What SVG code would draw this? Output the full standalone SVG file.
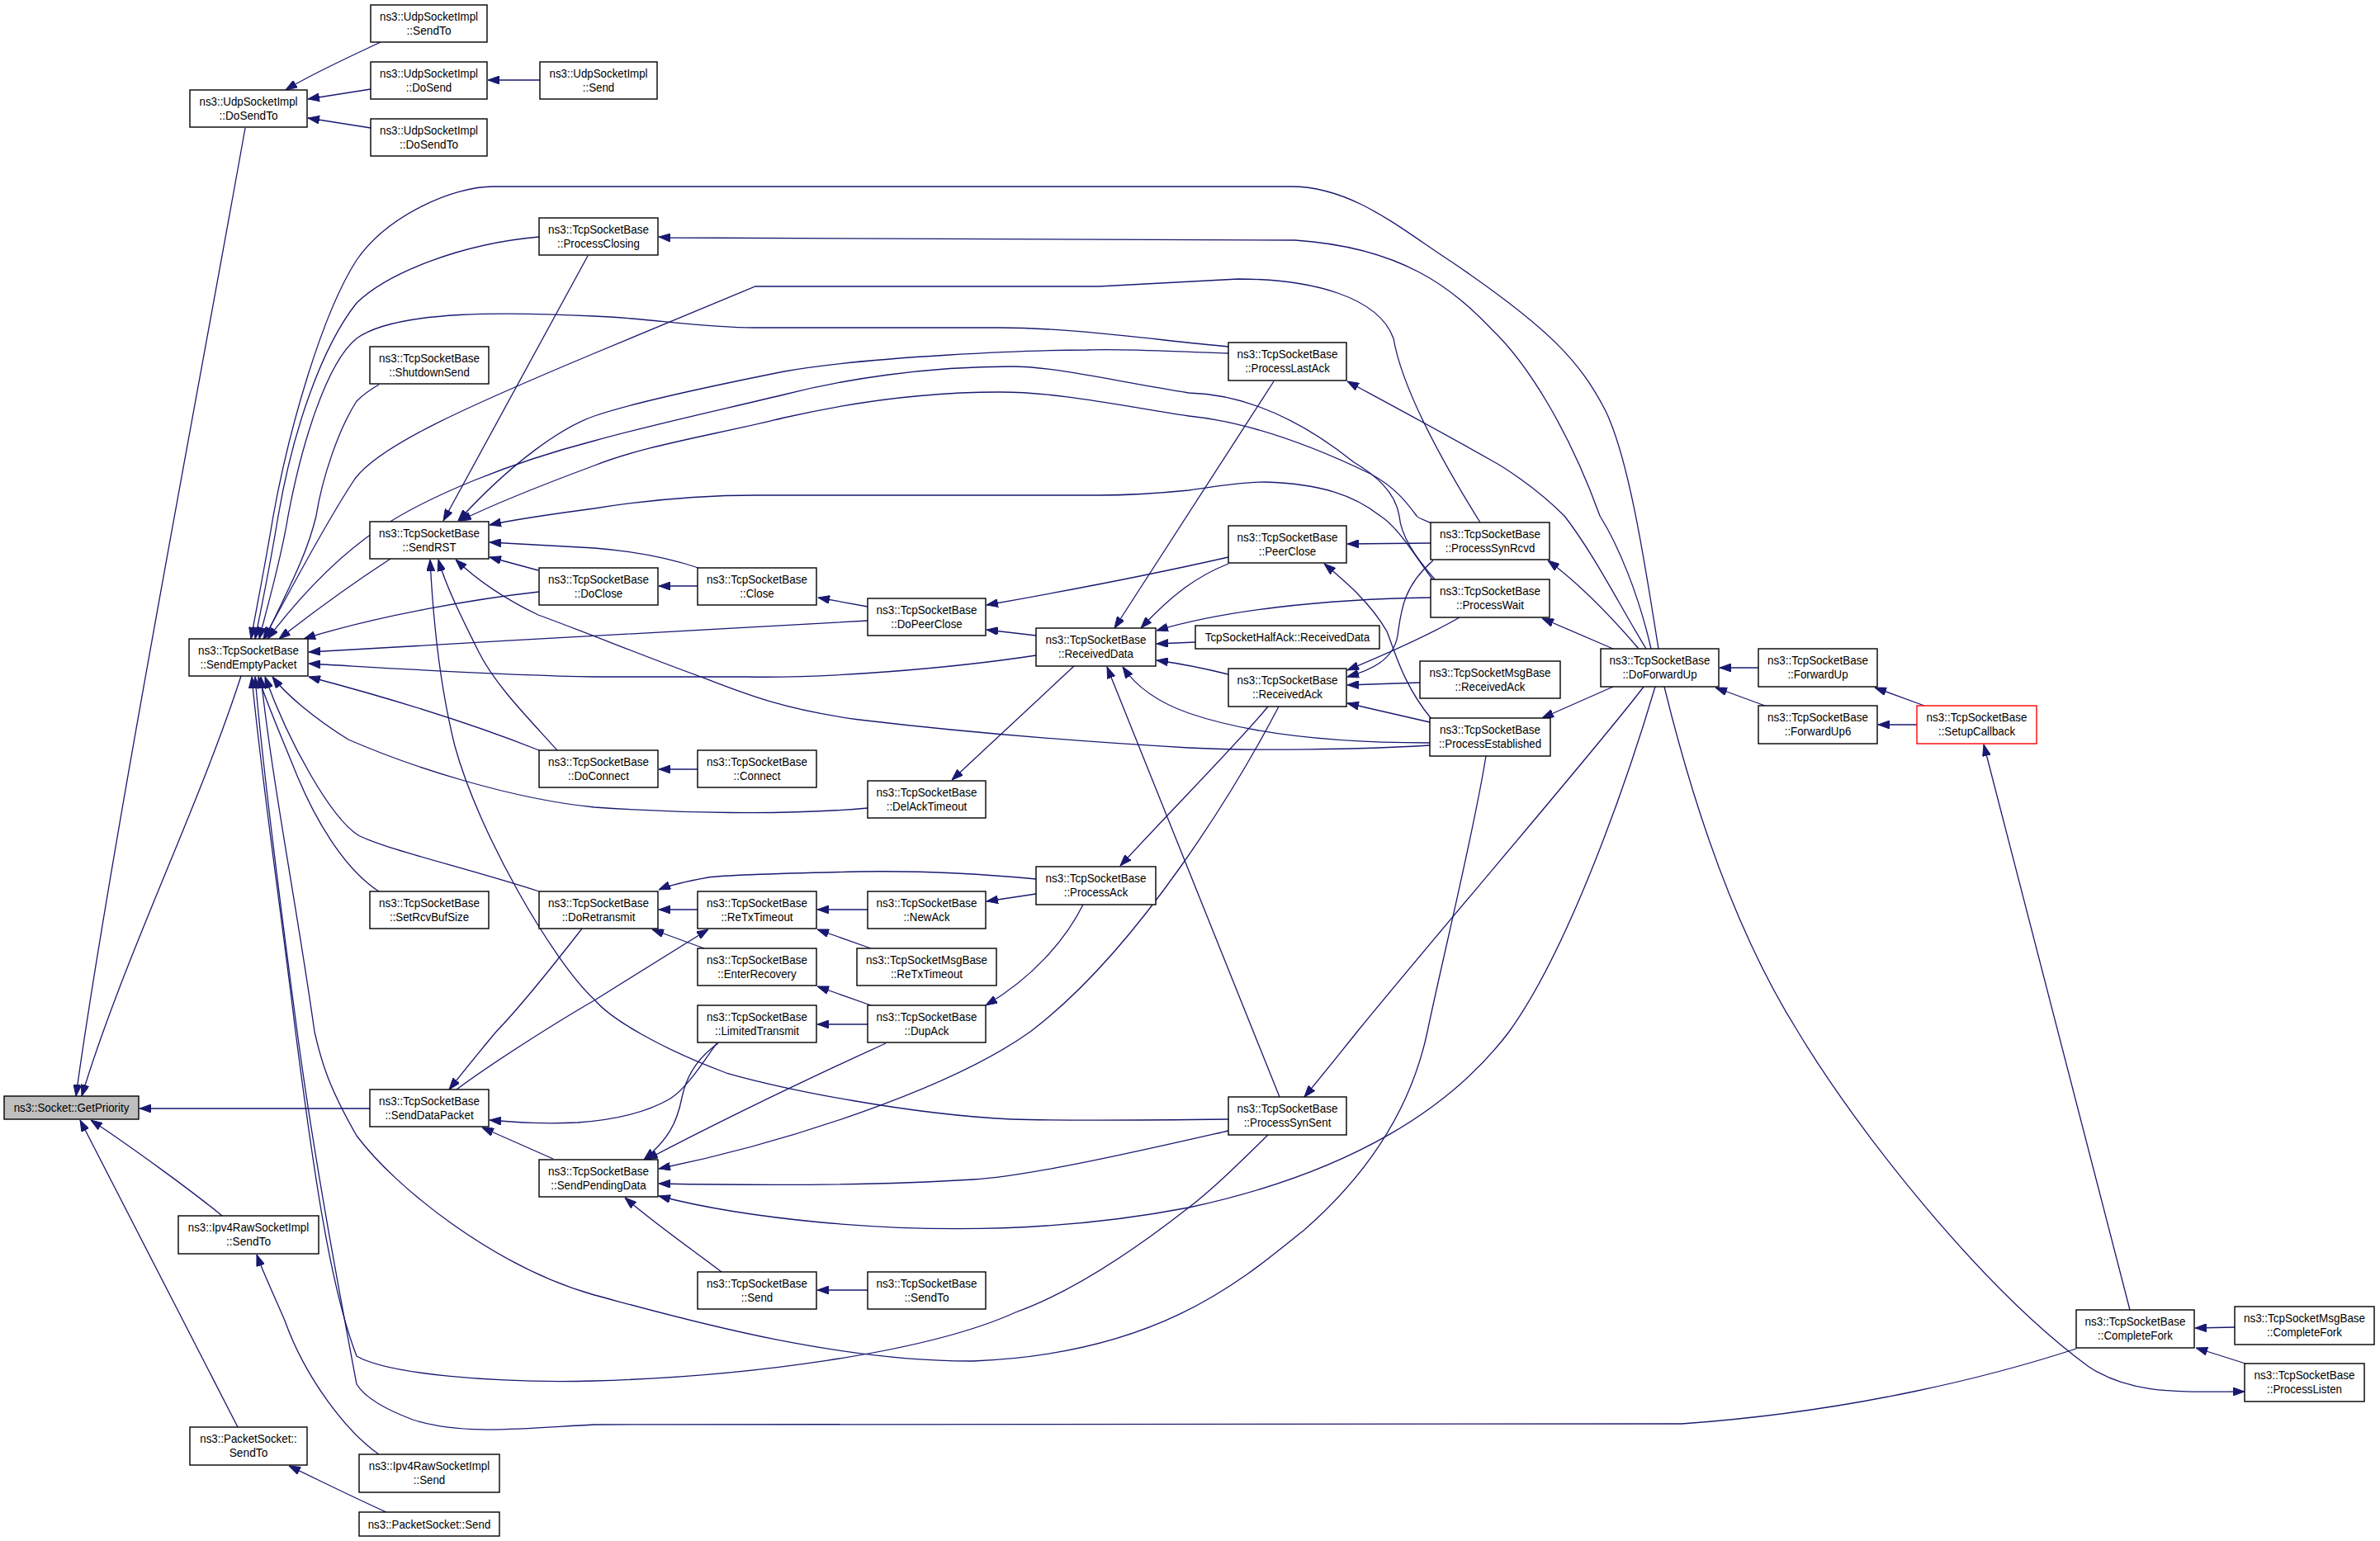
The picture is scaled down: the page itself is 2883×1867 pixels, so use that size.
<svg xmlns="http://www.w3.org/2000/svg" width="2883" height="1867" viewBox="0 0 2883 1867">
<style>
.n rect{fill:#fff;stroke:#000;stroke-width:1.4}
.n text{font-family:"Liberation Sans",Arial,sans-serif;font-size:15px;fill:#000;text-anchor:middle}
#edges path{fill:none;stroke:#191970;stroke-width:1.3;marker-end:url(#arr)}
</style>
<defs>
<marker id="arr" viewBox="0 0 14 10" refX="14" refY="5" markerWidth="14" markerHeight="10" markerUnits="userSpaceOnUse" orient="auto">
<path d="M0,0 L14,5 L0,10 z" fill="#191970" stroke="#191970" stroke-width="1"/>
</marker>
</defs>
<rect width="2883" height="1867" fill="#fff"/>
<g id="edges">
<path d="M297,155 C250,420 130,1050 92,1328"/>
<path d="M292,819 C240,980 150,1160 99,1328"/>
<path d="M448,1343 L169,1343"/>
<path d="M269,1473 C235,1445 160,1390 110,1357"/>
<path d="M288,1729 L97,1357"/>
<path d="M461,51 C430,66 380,88 346,109"/>
<path d="M449,108 L373,120"/>
<path d="M449,155 L373,143"/>
<path d="M654,97 L591,97"/>
<path d="M2009,786 C1995,700 1975,560 1945,498 C1915,440 1880,400 1761,319 C1700,280 1640,226 1564,226 L597,226 C550,226 470,260 432,315 C390,380 350,520 331,625 C322,680 312,730 304,774"/>
<path d="M2000,786 C1985,720 1960,660 1938,625 C1900,520 1850,440 1807,399 C1760,350 1700,300 1569,291 L812,288 L798,287"/>
<path d="M653,287 C560,295 470,330 432,367 C390,420 355,520 337,625 C328,680 318,730 309,774"/>
<path d="M712,310 L537,631"/>
<path d="M1488,420 C1400,412 1300,397 1211,397 L913,397 C850,397 780,385 720,383 C620,378 480,375 432,410 C395,440 365,540 349,625 C340,680 325,730 314,774"/>
<path d="M1488,428 C1420,426 1360,422 1317,424 C1250,424 1050,432 950,450 C850,470 760,490 720,504 C680,518 620,560 555,631"/>
<path d="M1793,633 C1760,580 1700,480 1688,410 C1670,360 1590,338 1500,338 L1331,347 L915,347 L720,428 C560,495 460,540 430,580 C390,640 350,720 319,774"/>
<path d="M1738,702 C1715,675 1697,650 1695,625 C1690,595 1665,575 1640,560 C1590,520 1520,478 1440,476 C1350,462 1280,444 1225,444 C1120,444 1020,460 950,478 C880,495 800,512 720,534 C620,560 520,600 460,640 C400,680 350,740 324,774"/>
<path d="M1735,634 C1725,630 1718,628 1716,625 C1705,610 1690,590 1660,574 C1600,545 1520,512 1440,504 C1350,490 1280,475 1211,475 C1110,475 1020,490 950,506 C860,528 780,540 720,564 C650,590 600,610 557,631"/>
<path d="M1736,703 C1715,675 1695,640 1672,625 C1640,600 1600,586 1532,584 C1500,584 1470,590 1440,594 C1400,598 1360,600 1331,600 L917,600 C840,600 770,608 720,616 C660,624 620,630 593,636"/>
<path d="M459,466 C445,474 438,480 432,486 C410,520 390,580 383,625 C370,680 340,730 321,774"/>
<path d="M473,677 C430,705 375,745 338,774"/>
<path d="M653,717 C580,725 460,745 368,774"/>
<path d="M1051,752 C900,762 600,776 374,790"/>
<path d="M1255,794 C1150,810 1000,822 904,820 L720,820 C600,818 480,810 374,804"/>
<path d="M653,909 C560,872 450,840 374,820"/>
<path d="M1051,979 C950,988 820,985 720,978 C620,968 500,930 422,896 C380,870 345,840 330,820"/>
<path d="M459,1080 C420,1055 385,1000 360,940 C340,890 322,850 313,820"/>
<path d="M653,1080 C560,1050 470,1030 434,1012 C400,990 350,900 321,820"/>
<path d="M1536,1375 C1500,1410 1470,1440 1440,1463 C1380,1510 1300,1565 1230,1590 C1120,1640 900,1668 720,1673 C600,1676 470,1665 432,1643 C400,1560 380,1420 358,1250 C340,1100 315,930 305,820"/>
<path d="M1800,916 C1785,1010 1750,1150 1729,1250 C1710,1340 1660,1420 1580,1490 C1500,1555 1400,1640 1179,1649 C1000,1650 800,1590 720,1569 C600,1535 480,1440 432,1376 C400,1320 390,1290 381,1250 C360,1100 330,950 316,820"/>
<path d="M2515,1634 C2420,1665 2250,1710 2037,1725 L720,1726 C640,1730 560,1740 500,1720 C460,1705 440,1690 432,1677 C410,1560 380,1400 360,1250 C340,1100 318,930 309,820"/>
<path d="M459,1762 C420,1735 370,1670 345,1600 C330,1565 318,1540 311,1520"/>
<path d="M468,1832 C430,1815 390,1795 350,1776"/>
<path d="M705,1125 C670,1170 630,1220 601,1250 C580,1275 560,1300 544,1320"/>
<path d="M553,1320 C600,1285 680,1235 720,1212 C780,1175 830,1143 858,1126"/>
<path d="M868,1264 C850,1290 830,1320 812,1331 C780,1350 740,1357 700,1360 C660,1362 630,1360 593,1357"/>
<path d="M670,1404 L584,1366"/>
<path d="M870,1264 C840,1285 830,1310 826,1330 C820,1360 810,1380 780,1405"/>
<path d="M1073,1264 C950,1320 850,1370 783,1405"/>
<path d="M1549,856 C1500,950 1380,1150 1248,1250 C1150,1320 950,1385 798,1416"/>
<path d="M1488,1370 C1400,1390 1250,1425 1179,1429 C1050,1437 900,1436 798,1434"/>
<path d="M2005,832 C1970,950 1900,1150 1828,1250 C1760,1340 1640,1420 1440,1463 C1300,1490 1150,1495 995,1481 C900,1472 840,1460 798,1449"/>
<path d="M874,1541 C840,1515 790,1480 757,1451"/>
<path d="M1051,1563 L990,1563"/>
<path d="M1488,1356 C1400,1357 1300,1358 1225,1356 C1100,1350 950,1320 880,1300 C800,1270 740,1235 720,1211 C670,1165 580,1010 551,904 C535,840 525,760 521,678"/>
<path d="M1732,903 C1650,908 1520,910 1440,906 C1300,898 1150,885 1041,872 C950,860 900,840 849,820 C780,795 720,770 652,745 C610,725 575,700 552,678"/>
<path d="M675,909 C640,870 600,830 580,790 C560,750 540,710 531,678"/>
<path d="M652,691 L593,675"/>
<path d="M846,688 C810,676 770,668 720,664 C670,661 630,659 593,657"/>
<path d="M845,710 L798,710"/>
<path d="M845,932 L798,932"/>
<path d="M1051,735 L991,724"/>
<path d="M1255,770 L1195,763"/>
<path d="M1488,675 C1400,695 1280,718 1195,733"/>
<path d="M1488,683 C1450,698 1420,720 1382,761"/>
<path d="M1543,462 L1350,761"/>
<path d="M1733,724 C1600,726 1480,740 1401,764"/>
<path d="M1448,778 L1401,780"/>
<path d="M1488,817 C1460,810 1430,804 1401,800"/>
<path d="M1732,900 C1650,900 1530,895 1440,864 C1400,850 1375,830 1360,808"/>
<path d="M1550,1329 L1341,808"/>
<path d="M1301,807 L1153,945"/>
<path d="M1536,856 C1500,900 1420,980 1357,1049"/>
<path d="M1255,1065 C1180,1058 1100,1055 1041,1056 C950,1058 880,1060 858,1063 C830,1068 810,1073 798,1078"/>
<path d="M1255,1083 L1195,1092"/>
<path d="M1312,1096 C1290,1140 1250,1185 1194,1218"/>
<path d="M845,1102 L798,1102"/>
<path d="M853,1149 L790,1126"/>
<path d="M1051,1102 L990,1102"/>
<path d="M1055,1149 L990,1126"/>
<path d="M1055,1218 L990,1195"/>
<path d="M1051,1241 L990,1241"/>
<path d="M1991,832 C1940,900 1750,1120 1644,1250 C1620,1280 1600,1305 1580,1329"/>
<path d="M2016,832 C2040,930 2090,1110 2178,1250 C2250,1370 2400,1560 2529,1655 C2580,1690 2640,1686 2719,1686"/>
<path d="M1985,786 C1950,745 1910,705 1875,679"/>
<path d="M1954,786 L1868,749"/>
<path d="M1954,832 L1868,870"/>
<path d="M1994,786 C1960,730 1930,670 1895,625 C1860,590 1820,565 1807,558 C1740,520 1680,488 1632,462"/>
<path d="M2130,809 L2083,809"/>
<path d="M2138,855 L2078,833"/>
<path d="M2331,855 L2271,833"/>
<path d="M2322,878 L2275,878"/>
<path d="M2580,1587 L2403,902"/>
<path d="M2707,1608 L2659,1609"/>
<path d="M2720,1652 L2660,1633"/>
<path d="M1733,658 L1632,659"/>
<path d="M1734,871 C1700,830 1690,790 1680,765 C1660,730 1630,705 1604,683"/>
<path d="M1768,748 C1730,770 1680,792 1632,812"/>
<path d="M1736,679 C1700,710 1697,740 1693,770 C1688,800 1660,812 1632,820"/>
<path d="M1720,827 L1632,830"/>
<path d="M1732,875 L1632,852"/>
</g>
<g id="n_getpriority" class="n"><rect x="5" y="1328" width="163" height="28" style="fill:#bfbfbf"/><text x="86.5" y="1347" textLength="139.7" lengthAdjust="spacingAndGlyphs">ns3::Socket::GetPriority</text></g>
<g id="n_udp_dosendto" class="n"><rect x="230" y="109" width="142" height="45"/><text x="301" y="127.5" textLength="119" lengthAdjust="spacingAndGlyphs">ns3::UdpSocketImpl</text><text x="301" y="144.5" textLength="71" lengthAdjust="spacingAndGlyphs">::DoSendTo</text></g>
<g id="n_udp_sendto" class="n"><rect x="449" y="6" width="141" height="45"/><text x="519.5" y="24.5" textLength="119" lengthAdjust="spacingAndGlyphs">ns3::UdpSocketImpl</text><text x="519.5" y="41.5" textLength="54" lengthAdjust="spacingAndGlyphs">::SendTo</text></g>
<g id="n_udp_dosend" class="n"><rect x="449" y="75" width="141" height="45"/><text x="519.5" y="93.5" textLength="119" lengthAdjust="spacingAndGlyphs">ns3::UdpSocketImpl</text><text x="519.5" y="110.5" textLength="55.4" lengthAdjust="spacingAndGlyphs">::DoSend</text></g>
<g id="n_udp_dosendto2" class="n"><rect x="449" y="144" width="141" height="45"/><text x="519.5" y="162.5" textLength="119" lengthAdjust="spacingAndGlyphs">ns3::UdpSocketImpl</text><text x="519.5" y="179.5" textLength="71" lengthAdjust="spacingAndGlyphs">::DoSendTo</text></g>
<g id="n_udp_send" class="n"><rect x="654" y="75" width="142" height="45"/><text x="725" y="93.5" textLength="119" lengthAdjust="spacingAndGlyphs">ns3::UdpSocketImpl</text><text x="725" y="110.5" textLength="38.5" lengthAdjust="spacingAndGlyphs">::Send</text></g>
<g id="n_sendemptypacket" class="n"><rect x="229" y="774" width="144" height="45"/><text x="301" y="792.5" textLength="122" lengthAdjust="spacingAndGlyphs">ns3::TcpSocketBase</text><text x="301" y="809.5" textLength="116.8" lengthAdjust="spacingAndGlyphs">::SendEmptyPacket</text></g>
<g id="n_processclosing" class="n"><rect x="653" y="264" width="144" height="45"/><text x="725" y="282.5" textLength="122" lengthAdjust="spacingAndGlyphs">ns3::TcpSocketBase</text><text x="725" y="299.5" textLength="99.8" lengthAdjust="spacingAndGlyphs">::ProcessClosing</text></g>
<g id="n_shutdownsend" class="n"><rect x="448" y="420" width="144" height="45"/><text x="520" y="438.5" textLength="122" lengthAdjust="spacingAndGlyphs">ns3::TcpSocketBase</text><text x="520" y="455.5" textLength="97.6" lengthAdjust="spacingAndGlyphs">::ShutdownSend</text></g>
<g id="n_sendrst" class="n"><rect x="448" y="632" width="144" height="45"/><text x="520" y="650.5" textLength="122" lengthAdjust="spacingAndGlyphs">ns3::TcpSocketBase</text><text x="520" y="667.5" textLength="65" lengthAdjust="spacingAndGlyphs">::SendRST</text></g>
<g id="n_doclose" class="n"><rect x="653" y="688" width="144" height="45"/><text x="725" y="706.5" textLength="122" lengthAdjust="spacingAndGlyphs">ns3::TcpSocketBase</text><text x="725" y="723.5" textLength="58.4" lengthAdjust="spacingAndGlyphs">::DoClose</text></g>
<g id="n_close" class="n"><rect x="845" y="688" width="144" height="45"/><text x="917" y="706.5" textLength="122" lengthAdjust="spacingAndGlyphs">ns3::TcpSocketBase</text><text x="917" y="723.5" textLength="41.4" lengthAdjust="spacingAndGlyphs">::Close</text></g>
<g id="n_dopeerclose" class="n"><rect x="1051" y="725" width="143" height="45"/><text x="1122.5" y="743.5" textLength="122" lengthAdjust="spacingAndGlyphs">ns3::TcpSocketBase</text><text x="1122.5" y="760.5" textLength="86.5" lengthAdjust="spacingAndGlyphs">::DoPeerClose</text></g>
<g id="n_receiveddata" class="n"><rect x="1255" y="761" width="145" height="46"/><text x="1327.5" y="780" textLength="122" lengthAdjust="spacingAndGlyphs">ns3::TcpSocketBase</text><text x="1327.5" y="797" textLength="90.9" lengthAdjust="spacingAndGlyphs">::ReceivedData</text></g>
<g id="n_doconnect" class="n"><rect x="653" y="909" width="144" height="45"/><text x="725" y="927.5" textLength="122" lengthAdjust="spacingAndGlyphs">ns3::TcpSocketBase</text><text x="725" y="944.5" textLength="73.9" lengthAdjust="spacingAndGlyphs">::DoConnect</text></g>
<g id="n_connect" class="n"><rect x="845" y="909" width="144" height="45"/><text x="917" y="927.5" textLength="122" lengthAdjust="spacingAndGlyphs">ns3::TcpSocketBase</text><text x="917" y="944.5" textLength="56.9" lengthAdjust="spacingAndGlyphs">::Connect</text></g>
<g id="n_delacktimeout" class="n"><rect x="1051" y="946" width="143" height="45"/><text x="1122.5" y="964.5" textLength="122" lengthAdjust="spacingAndGlyphs">ns3::TcpSocketBase</text><text x="1122.5" y="981.5" textLength="97.6" lengthAdjust="spacingAndGlyphs">::DelAckTimeout</text></g>
<g id="n_setrcvbufsize" class="n"><rect x="448" y="1080" width="144" height="45"/><text x="520" y="1098.5" textLength="122" lengthAdjust="spacingAndGlyphs">ns3::TcpSocketBase</text><text x="520" y="1115.5" textLength="96.1" lengthAdjust="spacingAndGlyphs">::SetRcvBufSize</text></g>
<g id="n_doretransmit" class="n"><rect x="653" y="1080" width="144" height="45"/><text x="725" y="1098.5" textLength="122" lengthAdjust="spacingAndGlyphs">ns3::TcpSocketBase</text><text x="725" y="1115.5" textLength="88.7" lengthAdjust="spacingAndGlyphs">::DoRetransmit</text></g>
<g id="n_retxtimeout" class="n"><rect x="845" y="1080" width="144" height="45"/><text x="917" y="1098.5" textLength="122" lengthAdjust="spacingAndGlyphs">ns3::TcpSocketBase</text><text x="917" y="1115.5" textLength="87.2" lengthAdjust="spacingAndGlyphs">::ReTxTimeout</text></g>
<g id="n_newack" class="n"><rect x="1051" y="1080" width="143" height="45"/><text x="1122.5" y="1098.5" textLength="122" lengthAdjust="spacingAndGlyphs">ns3::TcpSocketBase</text><text x="1122.5" y="1115.5" textLength="56.2" lengthAdjust="spacingAndGlyphs">::NewAck</text></g>
<g id="n_processack" class="n"><rect x="1255" y="1050" width="145" height="46"/><text x="1327.5" y="1069" textLength="122" lengthAdjust="spacingAndGlyphs">ns3::TcpSocketBase</text><text x="1327.5" y="1086" textLength="77.6" lengthAdjust="spacingAndGlyphs">::ProcessAck</text></g>
<g id="n_enterrecovery" class="n"><rect x="845" y="1149" width="144" height="45"/><text x="917" y="1167.5" textLength="122" lengthAdjust="spacingAndGlyphs">ns3::TcpSocketBase</text><text x="917" y="1184.5" textLength="95.3" lengthAdjust="spacingAndGlyphs">::EnterRecovery</text></g>
<g id="n_msg_retxtimeout" class="n"><rect x="1038" y="1149" width="169" height="45"/><text x="1122.5" y="1167.5" textLength="147.1" lengthAdjust="spacingAndGlyphs">ns3::TcpSocketMsgBase</text><text x="1122.5" y="1184.5" textLength="87.2" lengthAdjust="spacingAndGlyphs">::ReTxTimeout</text></g>
<g id="n_limitedtransmit" class="n"><rect x="845" y="1218" width="144" height="45"/><text x="917" y="1236.5" textLength="122" lengthAdjust="spacingAndGlyphs">ns3::TcpSocketBase</text><text x="917" y="1253.5" textLength="102" lengthAdjust="spacingAndGlyphs">::LimitedTransmit</text></g>
<g id="n_dupack" class="n"><rect x="1051" y="1218" width="143" height="45"/><text x="1122.5" y="1236.5" textLength="122" lengthAdjust="spacingAndGlyphs">ns3::TcpSocketBase</text><text x="1122.5" y="1253.5" textLength="54" lengthAdjust="spacingAndGlyphs">::DupAck</text></g>
<g id="n_senddatapacket" class="n"><rect x="448" y="1320" width="144" height="45"/><text x="520" y="1338.5" textLength="122" lengthAdjust="spacingAndGlyphs">ns3::TcpSocketBase</text><text x="520" y="1355.5" textLength="107.2" lengthAdjust="spacingAndGlyphs">::SendDataPacket</text></g>
<g id="n_sendpendingdata" class="n"><rect x="653" y="1405" width="144" height="45"/><text x="725" y="1423.5" textLength="122" lengthAdjust="spacingAndGlyphs">ns3::TcpSocketBase</text><text x="725" y="1440.5" textLength="115.3" lengthAdjust="spacingAndGlyphs">::SendPendingData</text></g>
<g id="n_ipv4_sendto" class="n"><rect x="216" y="1473" width="170" height="46"/><text x="301" y="1492" textLength="146.4" lengthAdjust="spacingAndGlyphs">ns3::Ipv4RawSocketImpl</text><text x="301" y="1509" textLength="54" lengthAdjust="spacingAndGlyphs">::SendTo</text></g>
<g id="n_packet_sendto" class="n"><rect x="230" y="1729" width="142" height="46"/><text x="301" y="1748" textLength="117.5" lengthAdjust="spacingAndGlyphs">ns3::PacketSocket::</text><text x="301" y="1765" textLength="46.6" lengthAdjust="spacingAndGlyphs">SendTo</text></g>
<g id="n_ipv4_send" class="n"><rect x="435" y="1762" width="170" height="46"/><text x="520" y="1781" textLength="146.4" lengthAdjust="spacingAndGlyphs">ns3::Ipv4RawSocketImpl</text><text x="520" y="1798" textLength="38.5" lengthAdjust="spacingAndGlyphs">::Send</text></g>
<g id="n_packet_send" class="n"><rect x="435" y="1832" width="170" height="29"/><text x="520" y="1851.5" textLength="148.6" lengthAdjust="spacingAndGlyphs">ns3::PacketSocket::Send</text></g>
<g id="n_tcp_send" class="n"><rect x="845" y="1541" width="144" height="45"/><text x="917" y="1559.5" textLength="122" lengthAdjust="spacingAndGlyphs">ns3::TcpSocketBase</text><text x="917" y="1576.5" textLength="38.5" lengthAdjust="spacingAndGlyphs">::Send</text></g>
<g id="n_tcp_sendto" class="n"><rect x="1051" y="1541" width="143" height="45"/><text x="1122.5" y="1559.5" textLength="122" lengthAdjust="spacingAndGlyphs">ns3::TcpSocketBase</text><text x="1122.5" y="1576.5" textLength="54" lengthAdjust="spacingAndGlyphs">::SendTo</text></g>
<g id="n_processlastack" class="n"><rect x="1488" y="415" width="143" height="46"/><text x="1559.5" y="434" textLength="122" lengthAdjust="spacingAndGlyphs">ns3::TcpSocketBase</text><text x="1559.5" y="451" textLength="102.7" lengthAdjust="spacingAndGlyphs">::ProcessLastAck</text></g>
<g id="n_peerclose" class="n"><rect x="1488" y="637" width="143" height="45"/><text x="1559.5" y="655.5" textLength="122" lengthAdjust="spacingAndGlyphs">ns3::TcpSocketBase</text><text x="1559.5" y="672.5" textLength="69.5" lengthAdjust="spacingAndGlyphs">::PeerClose</text></g>
<g id="n_processsynrcvd" class="n"><rect x="1733" y="633" width="144" height="45"/><text x="1805" y="651.5" textLength="122" lengthAdjust="spacingAndGlyphs">ns3::TcpSocketBase</text><text x="1805" y="668.5" textLength="108.6" lengthAdjust="spacingAndGlyphs">::ProcessSynRcvd</text></g>
<g id="n_processwait" class="n"><rect x="1733" y="702" width="144" height="46"/><text x="1805" y="721" textLength="122" lengthAdjust="spacingAndGlyphs">ns3::TcpSocketBase</text><text x="1805" y="738" textLength="82" lengthAdjust="spacingAndGlyphs">::ProcessWait</text></g>
<g id="n_halfack_receiveddata" class="n"><rect x="1448" y="758" width="223" height="28"/><text x="1559.5" y="777" textLength="199.6" lengthAdjust="spacingAndGlyphs">TcpSocketHalfAck::ReceivedData</text></g>
<g id="n_receivedack" class="n"><rect x="1488" y="810" width="143" height="46"/><text x="1559.5" y="829" textLength="122" lengthAdjust="spacingAndGlyphs">ns3::TcpSocketBase</text><text x="1559.5" y="846" textLength="85" lengthAdjust="spacingAndGlyphs">::ReceivedAck</text></g>
<g id="n_msg_receivedack" class="n"><rect x="1720" y="801" width="170" height="45"/><text x="1805" y="819.5" textLength="147.1" lengthAdjust="spacingAndGlyphs">ns3::TcpSocketMsgBase</text><text x="1805" y="836.5" textLength="85" lengthAdjust="spacingAndGlyphs">::ReceivedAck</text></g>
<g id="n_processestablished" class="n"><rect x="1732" y="870" width="146" height="46"/><text x="1805" y="889" textLength="122" lengthAdjust="spacingAndGlyphs">ns3::TcpSocketBase</text><text x="1805" y="906" textLength="124.2" lengthAdjust="spacingAndGlyphs">::ProcessEstablished</text></g>
<g id="n_doforwardup" class="n"><rect x="1939" y="786" width="143" height="46"/><text x="2010.5" y="805" textLength="122" lengthAdjust="spacingAndGlyphs">ns3::TcpSocketBase</text><text x="2010.5" y="822" textLength="90.2" lengthAdjust="spacingAndGlyphs">::DoForwardUp</text></g>
<g id="n_forwardup" class="n"><rect x="2130" y="786" width="144" height="46"/><text x="2202" y="805" textLength="122" lengthAdjust="spacingAndGlyphs">ns3::TcpSocketBase</text><text x="2202" y="822" textLength="73.2" lengthAdjust="spacingAndGlyphs">::ForwardUp</text></g>
<g id="n_forwardup6" class="n"><rect x="2130" y="855" width="144" height="46"/><text x="2202" y="874" textLength="122" lengthAdjust="spacingAndGlyphs">ns3::TcpSocketBase</text><text x="2202" y="891" textLength="80.6" lengthAdjust="spacingAndGlyphs">::ForwardUp6</text></g>
<g id="n_setupcallback" class="n"><rect x="2322" y="855" width="145" height="46" style="stroke:#ff0000"/><text x="2394.5" y="874" textLength="122" lengthAdjust="spacingAndGlyphs">ns3::TcpSocketBase</text><text x="2394.5" y="891" textLength="93.1" lengthAdjust="spacingAndGlyphs">::SetupCallback</text></g>
<g id="n_processsynsent" class="n"><rect x="1488" y="1329" width="143" height="46"/><text x="1559.5" y="1348" textLength="122" lengthAdjust="spacingAndGlyphs">ns3::TcpSocketBase</text><text x="1559.5" y="1365" textLength="105.7" lengthAdjust="spacingAndGlyphs">::ProcessSynSent</text></g>
<g id="n_completefork" class="n"><rect x="2515" y="1587" width="143" height="46"/><text x="2586.5" y="1606" textLength="122" lengthAdjust="spacingAndGlyphs">ns3::TcpSocketBase</text><text x="2586.5" y="1623" textLength="90.9" lengthAdjust="spacingAndGlyphs">::CompleteFork</text></g>
<g id="n_msg_completefork" class="n"><rect x="2707" y="1583" width="169" height="46"/><text x="2791.5" y="1602" textLength="147.1" lengthAdjust="spacingAndGlyphs">ns3::TcpSocketMsgBase</text><text x="2791.5" y="1619" textLength="90.9" lengthAdjust="spacingAndGlyphs">::CompleteFork</text></g>
<g id="n_processlisten" class="n"><rect x="2719" y="1652" width="145" height="46"/><text x="2791.5" y="1671" textLength="122" lengthAdjust="spacingAndGlyphs">ns3::TcpSocketBase</text><text x="2791.5" y="1688" textLength="90.9" lengthAdjust="spacingAndGlyphs">::ProcessListen</text></g>
</svg>
